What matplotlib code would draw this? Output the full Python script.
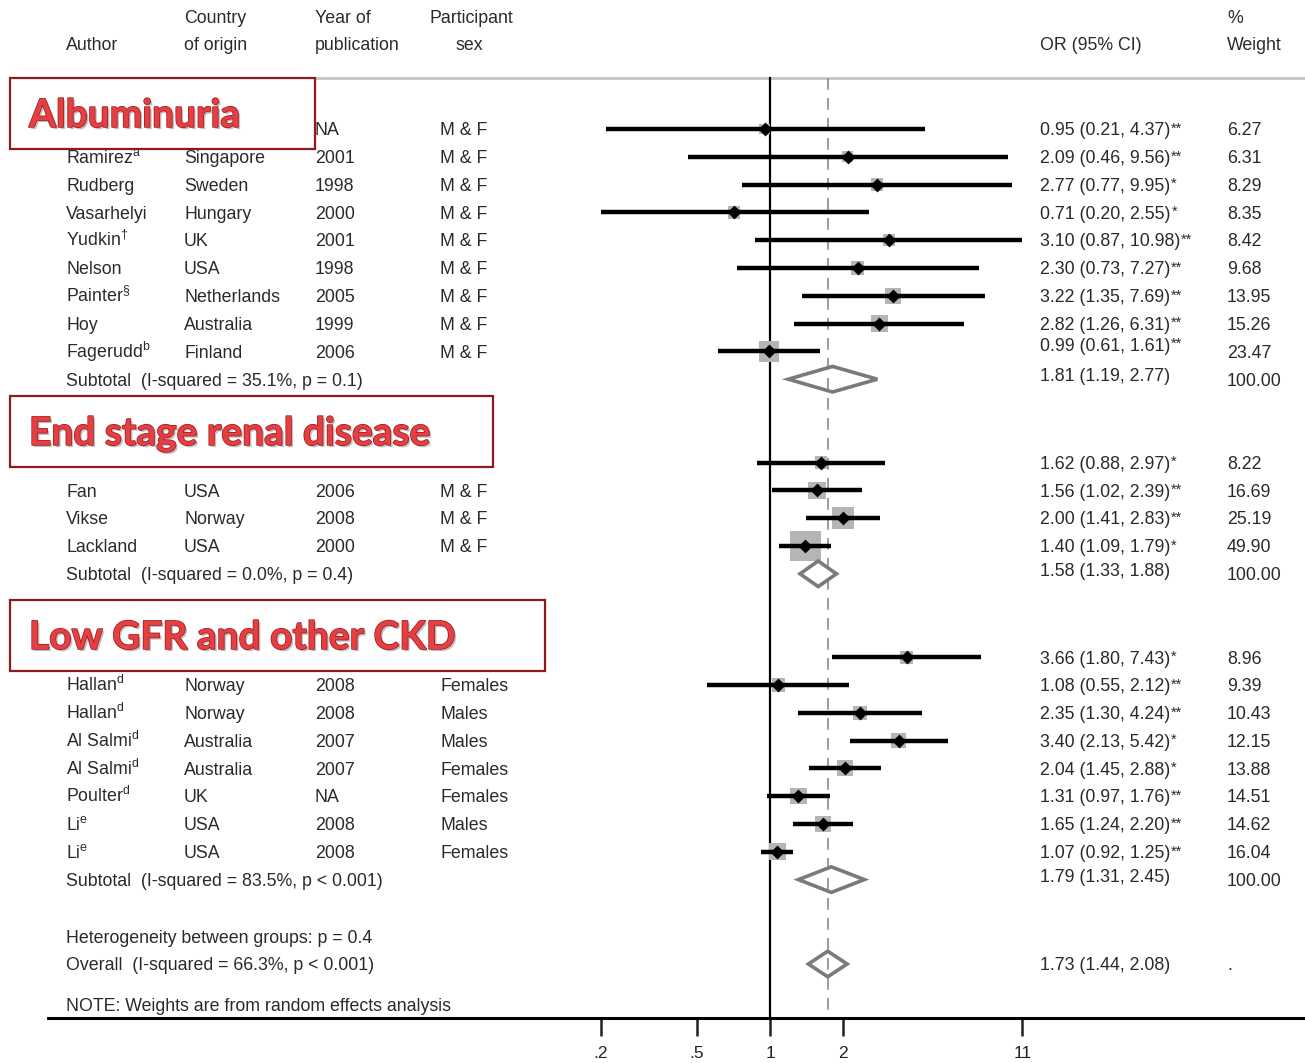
import numpy as np
import matplotlib
matplotlib.use('Agg')
import matplotlib.pyplot as plt
import matplotlib.patheffects as pe
from matplotlib.patches import Polygon, Rectangle
from matplotlib.transforms import blended_transform_factory

plt.rcParams['font.family'] = ['Liberation Sans', 'DejaVu Sans']
plt.rcParams['mathtext.fontset'] = 'custom'
plt.rcParams['mathtext.rm'] = 'Liberation Sans'
plt.rcParams['mathtext.it'] = 'Liberation Sans'

# --- Albuminuria
alb_author = ['', 'Ramirez$^\\mathrm{a}$', 'Rudberg', 'Vasarhelyi', 'Yudkin$^\u2020$',
              'Nelson', 'Painter$^\u00a7$', 'Hoy', 'Fagerudd$^\\mathrm{b}$']
alb_country = ['', 'Singapore', 'Sweden', 'Hungary', 'UK', 'USA', 'Netherlands',
               'Australia', 'Finland']
alb_year = ['NA', '2001', '1998', '2000', '2001', '1998', '2005', '1999', '2006']
alb_sex = ['M & F'] * 9
alb_or = [0.95, 2.09, 2.77, 0.71, 3.10, 2.30, 3.22, 2.82, 0.99]
alb_lo = [0.21, 0.46, 0.77, 0.20, 0.87, 0.73, 1.35, 1.26, 0.61]
alb_hi = [4.37, 9.56, 9.95, 2.55, 10.98, 7.27, 7.69, 6.31, 1.61]
alb_star = ['**', '**', '*', '*', '**', '**', '**', '**', '**']
alb_wt = [6.27, 6.31, 8.29, 8.35, 8.42, 9.68, 13.95, 15.26, 23.47]
alb_sub = (1.81, 1.19, 2.77)
alb_sub_text = 'Subtotal  (I-squared = 35.1%, p = 0.1)'

# --- End stage renal disease
esrd_author = ['', 'Fan', 'Vikse', 'Lackland']
esrd_country = ['', 'USA', 'Norway', 'USA']
esrd_year = ['', '2006', '2008', '2000']
esrd_sex = ['', 'M & F', 'M & F', 'M & F']
esrd_or = [1.62, 1.56, 2.00, 1.40]
esrd_lo = [0.88, 1.02, 1.41, 1.09]
esrd_hi = [2.97, 2.39, 2.83, 1.79]
esrd_star = ['*', '**', '**', '*']
esrd_wt = [8.22, 16.69, 25.19, 49.90]
esrd_sub = (1.58, 1.33, 1.88)
esrd_sub_text = 'Subtotal  (I-squared = 0.0%, p = 0.4)'

# --- Low GFR and other CKD
gfr_author = ['', 'Hallan$^\\mathrm{d}$', 'Hallan$^\\mathrm{d}$', 'Al Salmi$^\\mathrm{d}$',
              'Al Salmi$^\\mathrm{d}$', 'Poulter$^\\mathrm{d}$', 'Li$^\\mathrm{e}$',
              'Li$^\\mathrm{e}$']
gfr_country = ['', 'Norway', 'Norway', 'Australia', 'Australia', 'UK', 'USA', 'USA']
gfr_year = ['', '2008', '2008', '2007', '2007', 'NA', '2008', '2008']
gfr_sex = ['', 'Females', 'Males', 'Males', 'Females', 'Females', 'Males', 'Females']
gfr_or = [3.66, 1.08, 2.35, 3.40, 2.04, 1.31, 1.65, 1.07]
gfr_lo = [1.80, 0.55, 1.30, 2.13, 1.45, 0.97, 1.24, 0.92]
gfr_hi = [7.43, 2.12, 4.24, 5.42, 2.88, 1.76, 2.20, 1.25]
gfr_star = ['*', '**', '**', '*', '*', '**', '**', '**']
gfr_wt = [8.96, 9.39, 10.43, 12.15, 13.88, 14.51, 14.62, 16.04]
gfr_sub = (1.79, 1.31, 2.45)
gfr_sub_text = 'Subtotal  (I-squared = 83.5%, p < 0.001)'

overall = (1.73, 1.44, 2.08)
overall_text = 'Overall  (I-squared = 66.3%, p < 0.001)'
het_text = 'Heterogeneity between groups: p = 0.4'
note_text = 'NOTE: Weights are from random effects analysis'

group_titles = ['Albuminuria', 'End stage renal disease', 'Low GFR and other CKD']
xticks = [0.2, 0.5, 1, 2, 11]
xticklabels = ['.2', '.5', '1', '2', '11']

# figure geometry (pixels)
W, H = 1305, 1063
ROW0, ROWH = 129, 27.8          # pixel centre of first row, row pitch
AX_LEFT, AX_BOTTOM = 48, 1018
PX_PER_LN, X1_PX = 105.3, 770   # log scale: pixels per ln-unit, pixel of OR=1


def prow(px):
    return (px - ROW0) / ROWH


fig = plt.figure(figsize=(W / 100, H / 100), dpi=100)
fig.patch.set_facecolor('white')
ax = fig.add_axes([AX_LEFT / W, (H - AX_BOTTOM) / H, (W - AX_LEFT) / W, AX_BOTTOM / H])
ax.set_xscale('log')
ax.set_xlim(np.exp((AX_LEFT - X1_PX) / PX_PER_LN), np.exp((W - X1_PX) / PX_PER_LN))
ax.set_ylim(prow(AX_BOTTOM), prow(0))
for s in ['top', 'left', 'right']:
    ax.spines[s].set_visible(False)
ax.spines['bottom'].set_linewidth(2.2)
ax.set_yticks([])
ax.set_xticks(xticks)
ax.set_xticklabels(xticklabels)
ax.minorticks_off()
ax.tick_params(axis='x', length=13, width=1.8, labelsize=12.5, pad=7, colors='#222222')
ax.patch.set_alpha(0)

tr = blended_transform_factory(fig.transFigure, ax.transData)
TXT = '#2a2a2a'
FS = 12.8
BASE = 6.3 / ROWH   # baseline sits half a cap height below the row centre
COL = {'author': 66, 'country': 184, 'year': 315, 'sex': 440, 'or': 1040, 'wt': 1227}


def put(xpx, row, s, **kw):
    kw.setdefault('ha', 'left')
    return ax.text(xpx / W, row + BASE, s, transform=tr, va='baseline', fontsize=FS,
                   color=TXT, **kw)


def stars(txt, s):
    # significance marks tucked against the top right of the CI text
    ax.annotate(s, xy=(1, 1), xycoords=txt, xytext=(0.6, 0.5), textcoords='offset points',
                ha='left', va='top', fontsize=10.5, color=TXT)


# header
top1, top2 = prow(17), prow(44)
put(COL['author'], top2, 'Author')
put(COL['country'], top1, 'Country')
put(COL['country'], top2, 'of origin')
put(COL['year'], top1, 'Year of')
put(COL['year'], top2, 'publication')
put(471, top1, 'Participant', ha='center')
put(469, top2, 'sex', ha='center')
put(COL['or'], top2, 'OR (95% CI)')
put(COL['wt'], top1, '%')
put(COL['wt'], top2, 'Weight')

line_top = prow(78)
ax.plot([10 / W, 1.0], [line_top, line_top], transform=tr, color='#c4c4c4', lw=2,
        clip_on=False, zorder=1)

# reference lines
ax.plot([1, 1], [line_top, prow(AX_BOTTOM)], color='black', lw=1.6, zorder=2)
ax.plot([overall[0]] * 2, [line_top, prow(AX_BOTTOM)], color='#8a8a8a', lw=1.2,
        dashes=(7, 5), zorder=1)

groups = [
    (0, alb_author, alb_country, alb_year, alb_sex, alb_or, alb_lo, alb_hi, alb_star, alb_wt,
     alb_sub, alb_sub_text),
    (12, esrd_author, esrd_country, esrd_year, esrd_sex, esrd_or, esrd_lo, esrd_hi, esrd_star,
     esrd_wt, esrd_sub, esrd_sub_text),
    (19, gfr_author, gfr_country, gfr_year, gfr_sex, gfr_or, gfr_lo, gfr_hi, gfr_star, gfr_wt,
     gfr_sub, gfr_sub_text),
]


def diamond(est, lo, hi, row, h=0.46):
    ax.add_patch(Polygon([(lo, row), (est, row - h), (hi, row), (est, row + h)], closed=True,
                         fc='none', ec='#7a7a7a', lw=2.6, zorder=4))


for start, au, co, yr, sx, orv, lo, hi, st, wt, sub, subtxt in groups:
    rows = start + np.arange(len(orv))
    for r, a, c, y, s in zip(rows, au, co, yr, sx):
        put(COL['author'], r, a)
        put(COL['country'], r, c)
        put(COL['year'], r, y)
        put(COL['sex'], r, s)
    ax.hlines(rows, lo, hi, color='black', lw=3.2, zorder=3)
    ax.scatter(orv, rows, marker='s', s=9.6 * np.array(wt), color='#b5b5b5', lw=0, zorder=2)
    ax.scatter(orv, rows, marker='D', s=50, color='black', lw=0, zorder=5)
    for i, (r, o, l, h, a, w) in enumerate(zip(rows, orv, lo, hi, st, wt)):
        # last study of the first block has its CI text set a little high
        dy = -0.25 if (start == 0 and i == len(orv) - 1) else 0
        t = put(COL['or'], r + dy, f'{o:.2f} ({l:.2f}, {h:.2f})')
        stars(t, a)
        put(COL['wt'], r, f'{w:.2f}')
    srow = rows[-1] + 1
    put(COL['author'], srow, subtxt)
    diamond(sub[0], sub[1], sub[2], srow)
    put(COL['or'], srow - 0.15, f'{sub[0]:.2f} ({sub[1]:.2f}, {sub[2]:.2f})')
    put(COL['wt'], srow, '100.00')

put(COL['author'], prow(937), het_text)
orow = prow(964)
put(COL['author'], orow, overall_text)
diamond(overall[0], overall[1], overall[2], orow)
put(COL['or'], orow, f'{overall[0]:.2f} ({overall[1]:.2f}, {overall[2]:.2f})')
put(COL['wt'], orow, '.')
put(COL['author'], prow(1005), note_text)

# group title boxes (x0, x1, y0, y1 in pixels)
boxes = [(10, 315, 78, 149), (10, 493, 396, 467), (10, 545, 600, 671)]
for title, (x0, x1, y0, y1) in zip(group_titles, boxes):
    ax.add_patch(Rectangle((x0 / W, prow(y0)), (x1 - x0) / W, prow(y1) - prow(y0),
                           transform=tr, fc='white', ec='#8e1b1b', lw=1.6, zorder=8,
                           clip_on=False))
    ax.text(29 / W, prow((y0 + y1) / 2 + 2), title, transform=tr, ha='left', va='center',
            fontsize=28, fontweight='bold', family=['Lato', 'DejaVu Sans'], color='#e43f43',
            zorder=9, clip_on=False,
            path_effects=[pe.SimplePatchShadow(offset=(1.5, -1.5), shadow_rgbFace='#999999',
                                               alpha=0.6),
                          pe.Stroke(linewidth=1.1, foreground='#a31c1f'), pe.Normal()])

fig.savefig('out.png', dpi=100)
